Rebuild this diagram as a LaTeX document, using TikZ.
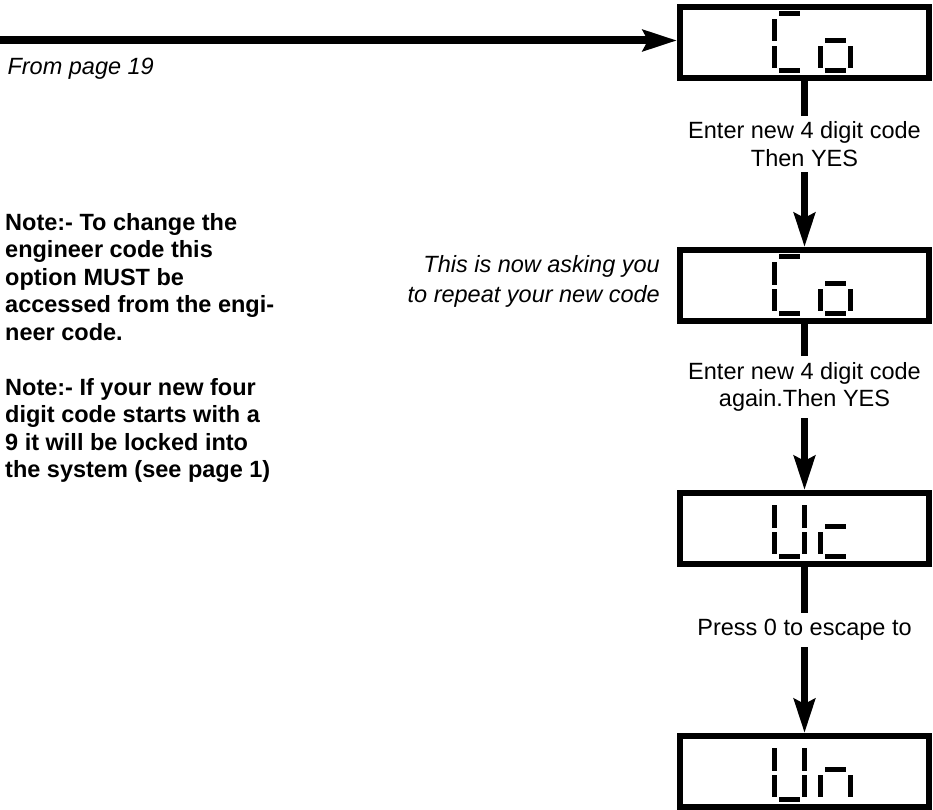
\documentclass[tikz,border=0pt]{standalone}
\usepackage{fontspec}
\setmainfont{Liberation Sans}
\usetikzlibrary{arrows.meta, positioning}
\tikzset{
  every picture/.style={font=\fontsize{23.5}{27.5}\selectfont},
  lcdbox/.style={draw, line width=6pt, minimum width=249pt, minimum height=71pt, inner sep=0pt},
  flow/.style={-{Stealth[length=34pt, width=21pt, inset=5pt]}, line width=7pt},
  lbl/.style={fill=white, align=center, inner sep=6pt, pos=0.38},
  aside/.style={font=\fontsize{23.5}{30}\selectfont\itshape, align=right, inner sep=0pt},
  note/.style={font=\fontsize{23.5}{27.5}\selectfont\bfseries, align=left, inner sep=0pt},
}
% seven segment pieces, cell origin = left edge, box centre height
\newcommand{\lcdsega}{\fill (6.5,-31.5) rectangle (27.5,-26.5);}
\newcommand{\lcdsegb}{\fill (29.5,-23.5) rectangle (34.5,-1);}
\newcommand{\lcdsegc}{\fill (29.5,3.5) rectangle (34.5,25.5);}
\newcommand{\lcdsegd}{\fill (6.5,25.5) rectangle (27.5,30.5);}
\newcommand{\lcdsege}{\fill (0,3.5) rectangle (5,25.5);}
\newcommand{\lcdsegf}{\fill (0,-23.5) rectangle (5,-1);}
\newcommand{\lcdsegg}{\fill (6.5,-4.5) rectangle (27.5,0.5);}
\newcommand{\lcdchar}[3]{\begin{scope}[shift={(#1.center)}, xshift=#2pt]
  \foreach \s in {#3} {\csname lcdseg\s\endcsname}
\end{scope}}

\begin{document}
\begin{tikzpicture}[x=1pt, y=-1pt]
  \useasboundingbox (0,0) rectangle (933,810);
  \node[lcdbox] (box1) at (804.5,42.5) {};
  \node[lcdbox, below=166pt of box1] (box2) {};
  \node[lcdbox, below=166pt of box2] (box3) {};
  \node[lcdbox, below=166pt of box3] (box4) {};
  \lcdchar{box1}{-32.5}{a,f,e,d} \lcdchar{box1}{13.5}{g,e,c,d}
  \lcdchar{box2}{-32.5}{a,f,e,d} \lcdchar{box2}{13.5}{g,e,c,d}
  \lcdchar{box3}{-32.5}{f,b,e,c,d} \lcdchar{box3}{13.5}{g,e,d}
  \lcdchar{box4}{-32.5}{f,b,e,c,d} \lcdchar{box4}{13.5}{g,e,c}
  \coordinate (in) at (0,40.5);
  \draw[flow, line width=8pt] (in) -- (in -| box1.west);
  \node[anchor=base west, font=\fontsize{23.5}{27.5}\selectfont\itshape] (from) at (4,75) {From page 19};
  \draw[flow] (box1) -- node[lbl] (lbl1) {Enter new 4 digit code\\Then YES} (box2);
  \draw[flow] (box2) -- node[lbl] (lbl2) {Enter new 4 digit code\\again.Then YES} (box3);
  \draw[flow] (box3) -- node[lbl] (lbl3) {Press 0 to escape to} (box4);
  \node[aside, left=17pt of box2, yshift=4.5pt] (ask) {This is now asking you\\to repeat your new code};
  \node[note, anchor=north west] (note) at (5,213) {Note:- To change the\\engineer code this\\option MUST be\\accessed from the engi-\\neer code.\\[27.5pt]Note:- If your new four\\digit code starts with a\\9 it will be locked into\\the system (see page 1)};
\end{tikzpicture}
\end{document}
